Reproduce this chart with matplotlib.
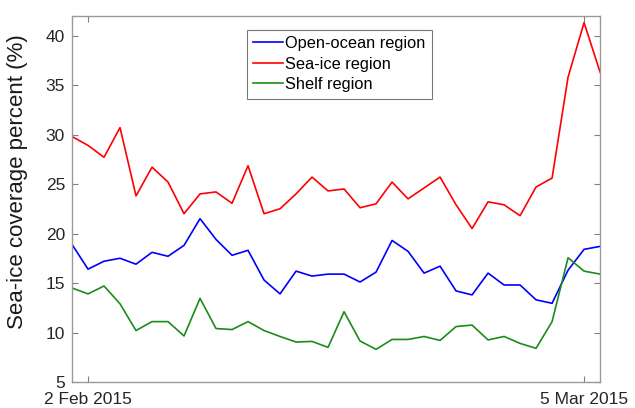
import matplotlib
matplotlib.use("Agg")
import matplotlib.pyplot as plt
import numpy as np
import pandas as pd

plt.rcParams['font.family'] = ['Liberation Sans', 'DejaVu Sans']

dates = pd.date_range("2015-02-01", "2015-03-06", freq="D")

open_ocean = [18.9, 16.4, 17.2, 17.5, 16.9, 18.1, 17.7, 18.8, 21.5, 19.4, 17.8, 18.3,
              15.3, 13.9, 16.2, 15.7, 15.9, 15.9, 15.1, 16.1, 19.3, 18.2, 16.0, 16.7,
              14.2, 13.8, 16.0, 14.8, 14.8, 13.3, 12.95, 16.3, 18.4, 18.7]
sea_ice = [29.8, 28.9, 27.7, 30.7, 23.8, 26.7, 25.2, 22.0, 24.0, 24.2, 23.05, 26.85,
           22.0, 22.5, 24.0, 25.7, 24.3, 24.5, 22.6, 23.0, 25.2, 23.5, 24.6, 25.7,
           22.9, 20.5, 23.2, 22.9, 21.8, 24.7, 25.6, 35.8, 41.3, 36.3]
shelf = [14.5, 13.9, 14.7, 12.9, 10.2, 11.1, 11.1, 9.65, 13.45, 10.4, 10.3, 11.1,
         10.2, 9.6, 9.04, 9.1, 8.5, 12.1, 9.14, 8.3, 9.3, 9.3, 9.6, 9.2,
         10.6, 10.75, 9.25, 9.6, 8.9, 8.4, 11.1, 17.55, 16.2, 15.9]

labels = ["Open-ocean region", "Sea-ice region", "Shelf region"]
colors = ["#0000ff", "#ff0000", "#1a8c1a"]
tick_dates = [pd.Timestamp("2015-02-02"), pd.Timestamp("2015-03-05")]
tick_labels = ["2 Feb 2015", "5 Mar 2015"]

fig = plt.figure(figsize=(6.35, 4.08), dpi=100)
ax = fig.add_axes([0.1134, 0.0637, 0.8316, 0.8978])

for series, lab, col in zip([open_ocean, sea_ice, shelf], labels, colors):
    ax.plot(dates, series, color=col, lw=1.2, label=lab)

ax.set_xlim(dates[0], dates[-1])
ax.set_ylim(5, 42)
ax.set_yticks(np.arange(5, 41, 5))
ax.set_xticks(tick_dates)
ax.set_xticklabels(tick_labels)

ax.tick_params(direction='in', top=True, right=True, length=4, width=0.8,
               color='#808080', labelsize=12.5, labelcolor='#262626')
ax.tick_params(axis='y', pad=5)
ax.tick_params(axis='x', pad=7)
for s in ax.spines.values():
    s.set_color('#999999')
    s.set_linewidth(1.0)

ax.set_ylabel("Sea-ice coverage percent (%)", fontsize=16, color='#1a1a1a')
ax.yaxis.set_label_coords(-0.083, 0.546)

leg = ax.legend(loc='upper left', bbox_to_anchor=(0.331, 0.962), fontsize=11.8,
                frameon=True, fancybox=False, edgecolor='#555555', handlelength=1.8,
                handletextpad=0.15, borderpad=0.4, labelspacing=0.33,
                borderaxespad=0.0)
leg.get_frame().set_linewidth(0.8)

fig.savefig("out.png", dpi=100)
